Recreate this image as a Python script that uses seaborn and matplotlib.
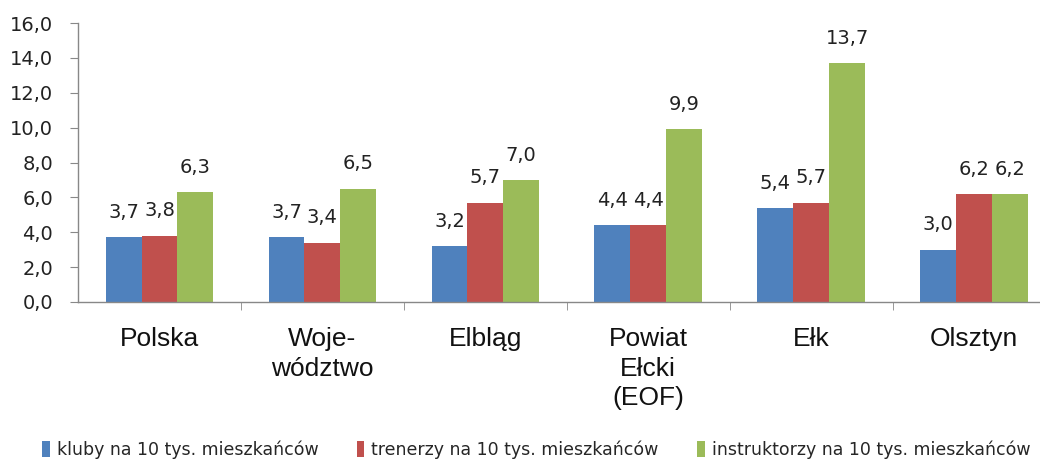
import pandas as pd
import numpy as np
import matplotlib
matplotlib.use("Agg")
import matplotlib.pyplot as plt
import seaborn as sns

# categories and series
categories = ["Polska", "Woje-\nwództwo", "Elbląg", "Powiat\nEłcki\n(EOF)", "Ełk", "Olsztyn"]
series = ["kluby na 10 tys. mieszkańców",
          "trenerzy na 10 tys. mieszkańców",
          "instruktorzy na 10 tys. mieszkańców"]
kluby = [3.7, 3.7, 3.2, 4.4, 5.4, 3.0]
trenerzy = [3.8, 3.4, 5.7, 4.4, 5.7, 6.2]
instruktorzy = [6.3, 6.5, 7.0, 9.9, 13.7, 6.2]
y_ticks = [0, 2, 4, 6, 8, 10, 12, 14, 16]

colors = ["#4F81BD", "#C0504D", "#9BBB59"]

df = pd.DataFrame({
    "Kategoria": categories * 3,
    "Seria": np.repeat(series, len(categories)),
    "Wartosc": kluby + trenerzy + instruktorzy,
})

sns.set_style("white")
plt.rcParams['font.family'] = ['DejaVu Sans']

fig = plt.figure(figsize=(10.4, 4.61), dpi=100)
ax = fig.add_axes([0.075, 0.345, 0.94, 0.605])

sns.barplot(data=df, x="Kategoria", y="Wartosc", hue="Seria", palette=colors,
            width=0.66, saturation=1, linewidth=0, ax=ax, legend=True)

for cont in ax.containers:
    labels = [f"{b.get_height():.1f}".replace(".", ",") for b in cont]
    ax.bar_label(cont, labels=labels, padding=11, fontsize=14, color="#222222")

ax.set_ylim(0, 16)
ax.set_xlim(-0.5, 5.5)
ax.set_yticks(y_ticks)
ax.set_yticklabels([f"{v:.1f}".replace(".", ",") for v in y_ticks], fontsize=14, color="#222222")
ax.set_xticks(np.arange(len(categories)))
ax.set_xticklabels(categories, fontsize=19, linespacing=1.3, va="top",
                   family="Liberation Sans", color="#111111")
ax.tick_params(axis="x", length=0, pad=18)
ax.tick_params(axis="y", length=6, color="#888888", direction="out", left=True, pad=12)
ax.set_xticks(np.arange(len(categories)) + 0.5, minor=True)
ax.tick_params(axis="x", which="minor", length=6, color="#888888", direction="out", bottom=True)
ax.set_xlabel("")
ax.set_ylabel("")

for s in ["top", "right"]:
    ax.spines[s].set_visible(False)
for s in ["left", "bottom"]:
    ax.spines[s].set_color("#888888")
    ax.spines[s].set_linewidth(1)

handles, labs = ax.get_legend_handles_labels()
ax.legend(handles, labs, loc="center left", bbox_to_anchor=(-0.037, -0.53), ncol=3,
          frameon=False, prop={"size": 12.5}, handlelength=0.45, handleheight=1.1,
          handletextpad=0.4, columnspacing=2.2, borderpad=0, borderaxespad=0)

fig.savefig("out.png", dpi=100)
